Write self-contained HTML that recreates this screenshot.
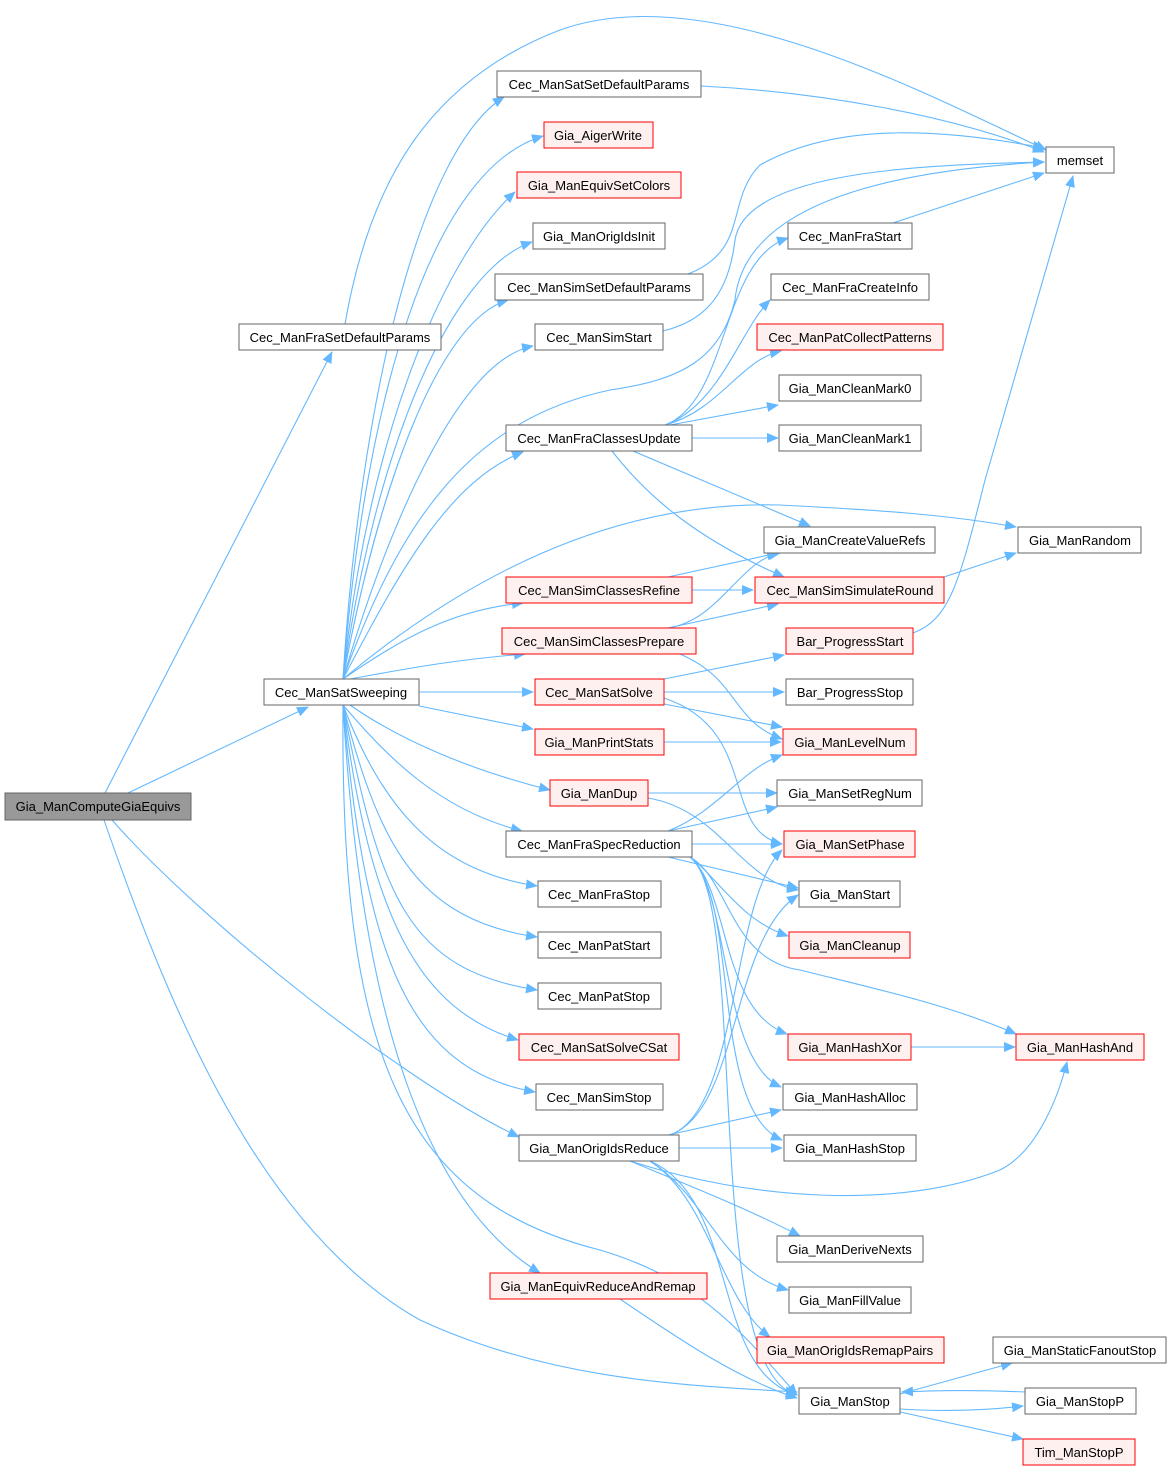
<!DOCTYPE html>
<html><head><meta charset="utf-8"><style>
html,body{margin:0;padding:0;background:#fff;}
svg{display:block;font-family:"Liberation Sans",Arial,sans-serif;}
.n rect{fill:#fff;stroke:#666;stroke-width:1}
.r rect{fill:#fff0f0;stroke:#ff0000;stroke-width:1}
.g rect{fill:#999;stroke:#666;stroke-width:1}
text{font-size:13px;fill:#000;text-anchor:middle;}
path{fill:none;stroke:#63b8ff;stroke-width:1.1;marker-end:url(#a)}
</style></head><body>
<svg width="1172" height="1471" viewBox="0 0 1172 1471" xmlns="http://www.w3.org/2000/svg">
<defs><marker id="a" markerWidth="12" markerHeight="10" refX="11" refY="5" orient="auto" markerUnits="userSpaceOnUse"><polygon points="0,0 12,5 0,10" fill="#63b8ff"/></marker></defs>
<g>
<path d="M105,793 L332,352"/>
<path d="M128,793 L308,707"/>
<path d="M112,820 C200,920 400,1080 519,1137"/>
<path d="M104,820 C170,1010 260,1230 420,1320 C550,1380 680,1385 797,1392"/>
<path d="M345,324 C370,180 430,80 560,30 C700,-20 900,80 1046,150"/>
<path d="M701,86 C820,92 950,115 1044,152"/>
<path d="M688,274 C750,250 725,200 760,165 C840,120 950,130 1044,148"/>
<path d="M663,331 C700,322 728,300 735,240 C745,175 900,165 1044,162"/>
<path d="M893,223 L1044,173"/>
<path d="M913,633 C950,620 960,580 985,480 L1073,176"/>
<path d="M343,679 C360,400 420,150 504,97"/>
<path d="M343,679 C365,400 430,170 543,136"/>
<path d="M343,679 C370,420 450,250 515,192"/>
<path d="M343,679 C375,450 450,270 532,242"/>
<path d="M343,679 C380,480 440,320 508,300"/>
<path d="M343,679 C390,520 460,360 533,346"/>
<path d="M343,679 C400,520 470,420 610,390 C680,380 720,360 735,300 C745,200 900,170 1044,162"/>
<path d="M343,679 C400,570 450,480 523,452"/>
<path d="M343,679 C450,590 600,500 780,505 C880,510 950,515 1016,527"/>
<path d="M343,679 C400,640 450,610 523,603"/>
<path d="M350,679 C400,670 450,660 525,654"/>
<path d="M419,692 L533,692"/>
<path d="M419,706 L533,729"/>
<path d="M350,705 C400,740 470,770 550,790"/>
<path d="M343,705 C390,760 440,810 522,831"/>
<path d="M343,705 C380,800 430,870 537,886"/>
<path d="M343,705 C380,850 420,920 537,937"/>
<path d="M343,705 C380,900 410,970 537,990"/>
<path d="M343,705 C370,920 420,1010 518,1040"/>
<path d="M343,705 C365,960 410,1070 535,1092"/>
<path d="M343,705 C360,1000 420,1200 540,1273"/>
<path d="M343,705 C340,1050 400,1200 600,1250 C700,1280 740,1330 797,1395"/>
<path d="M665,425 C730,400 720,260 788,238"/>
<path d="M665,425 C720,405 740,330 770,300"/>
<path d="M665,425 C720,410 740,360 781,351"/>
<path d="M670,425 L778,405"/>
<path d="M692,438 L778,438"/>
<path d="M633,451 L810,526"/>
<path d="M612,451 C650,500 700,540 784,577"/>
<path d="M668,577 L778,553"/>
<path d="M692,590 L753,590"/>
<path d="M668,628 C720,620 740,560 780,553"/>
<path d="M668,628 L778,604"/>
<path d="M680,654 C740,680 730,720 782,739"/>
<path d="M944,577 L1016,553"/>
<path d="M664,679 L784,655"/>
<path d="M664,692 L784,692"/>
<path d="M664,704 L782,727"/>
<path d="M664,698 C760,730 720,830 782,844"/>
<path d="M664,742 L781,742"/>
<path d="M648,793 L777,793"/>
<path d="M648,798 C720,810 740,880 798,890"/>
<path d="M668,831 C720,810 740,770 782,755"/>
<path d="M668,831 L777,807"/>
<path d="M692,844 L782,844"/>
<path d="M668,857 L798,888"/>
<path d="M690,857 C720,880 740,920 788,936"/>
<path d="M690,857 C730,880 730,960 800,970 C880,990 950,1005 1016,1034"/>
<path d="M690,857 C730,890 720,1010 787,1034"/>
<path d="M690,857 C730,890 720,1060 781,1087"/>
<path d="M690,857 C740,900 710,1110 782,1140"/>
<path d="M690,857 C750,900 700,1370 797,1395"/>
<path d="M911,1047 L1015,1047"/>
<path d="M668,1135 L781,1110"/>
<path d="M679,1148 L782,1148"/>
<path d="M670,1135 C740,1110 730,900 782,850"/>
<path d="M670,1135 C740,1110 730,940 798,895"/>
<path d="M630,1161 C750,1200 900,1210 1000,1170 C1040,1150 1060,1090 1067,1062"/>
<path d="M630,1161 C700,1190 750,1210 800,1236"/>
<path d="M650,1161 C710,1200 720,1270 788,1290"/>
<path d="M650,1161 C710,1200 720,1300 770,1337"/>
<path d="M650,1161 C740,1200 710,1370 797,1395"/>
<path d="M620,1299 C680,1340 740,1380 797,1398"/>
<path d="M900,1394 L1012,1363"/>
<path d="M1025,1392 C980,1390 940,1390 902,1392"/>
<path d="M900,1409 C950,1412 990,1410 1023,1406"/>
<path d="M900,1412 L1023,1439"/>
</g>
<g class="g"><rect x="5" y="793" width="186" height="27"/><text x="98" y="811">Gia_ManComputeGiaEquivs</text></g>
<g class="n"><rect x="239" y="324" width="202" height="26"/><text x="340" y="342">Cec_ManFraSetDefaultParams</text></g>
<g class="n"><rect x="264" y="679" width="155" height="26"/><text x="341" y="697">Cec_ManSatSweeping</text></g>
<g class="n"><rect x="497" y="71" width="204" height="26"/><text x="599" y="89">Cec_ManSatSetDefaultParams</text></g>
<g class="r"><rect x="544" y="122" width="109" height="26"/><text x="598" y="140">Gia_AigerWrite</text></g>
<g class="r"><rect x="517" y="172" width="164" height="26"/><text x="599" y="190">Gia_ManEquivSetColors</text></g>
<g class="n"><rect x="533" y="223" width="132" height="26"/><text x="599" y="241">Gia_ManOrigIdsInit</text></g>
<g class="n"><rect x="495" y="274" width="208" height="26"/><text x="599" y="292">Cec_ManSimSetDefaultParams</text></g>
<g class="n"><rect x="535" y="324" width="128" height="26"/><text x="599" y="342">Cec_ManSimStart</text></g>
<g class="n"><rect x="506" y="425" width="186" height="26"/><text x="599" y="443">Cec_ManFraClassesUpdate</text></g>
<g class="r"><rect x="506" y="577" width="186" height="26"/><text x="599" y="595">Cec_ManSimClassesRefine</text></g>
<g class="r"><rect x="502" y="628" width="194" height="26"/><text x="599" y="646">Cec_ManSimClassesPrepare</text></g>
<g class="r"><rect x="535" y="679" width="129" height="26"/><text x="599" y="697">Cec_ManSatSolve</text></g>
<g class="r"><rect x="535" y="729" width="129" height="26"/><text x="599" y="747">Gia_ManPrintStats</text></g>
<g class="r"><rect x="550" y="780" width="98" height="26"/><text x="599" y="798">Gia_ManDup</text></g>
<g class="n"><rect x="506" y="831" width="186" height="26"/><text x="599" y="849">Cec_ManFraSpecReduction</text></g>
<g class="n"><rect x="538" y="881" width="123" height="26"/><text x="599" y="899">Cec_ManFraStop</text></g>
<g class="n"><rect x="538" y="932" width="123" height="26"/><text x="599" y="950">Cec_ManPatStart</text></g>
<g class="n"><rect x="538" y="983" width="123" height="26"/><text x="599" y="1001">Cec_ManPatStop</text></g>
<g class="r"><rect x="519" y="1034" width="160" height="26"/><text x="599" y="1052">Cec_ManSatSolveCSat</text></g>
<g class="n"><rect x="536" y="1084" width="127" height="26"/><text x="599" y="1102">Cec_ManSimStop</text></g>
<g class="n"><rect x="519" y="1135" width="160" height="26"/><text x="599" y="1153">Gia_ManOrigIdsReduce</text></g>
<g class="r"><rect x="490" y="1273" width="217" height="26"/><text x="598" y="1291">Gia_ManEquivReduceAndRemap</text></g>
<g class="n"><rect x="788" y="223" width="124" height="26"/><text x="850" y="241">Cec_ManFraStart</text></g>
<g class="n"><rect x="771" y="274" width="158" height="26"/><text x="850" y="292">Cec_ManFraCreateInfo</text></g>
<g class="r"><rect x="757" y="324" width="186" height="26"/><text x="850" y="342">Cec_ManPatCollectPatterns</text></g>
<g class="n"><rect x="779" y="375" width="142" height="26"/><text x="850" y="393">Gia_ManCleanMark0</text></g>
<g class="n"><rect x="779" y="425" width="142" height="26"/><text x="850" y="443">Gia_ManCleanMark1</text></g>
<g class="n"><rect x="764" y="527" width="171" height="26"/><text x="850" y="545">Gia_ManCreateValueRefs</text></g>
<g class="r"><rect x="755" y="577" width="189" height="26"/><text x="850" y="595">Cec_ManSimSimulateRound</text></g>
<g class="r"><rect x="786" y="628" width="127" height="26"/><text x="850" y="646">Bar_ProgressStart</text></g>
<g class="n"><rect x="786" y="679" width="127" height="26"/><text x="850" y="697">Bar_ProgressStop</text></g>
<g class="r"><rect x="783" y="729" width="133" height="26"/><text x="850" y="747">Gia_ManLevelNum</text></g>
<g class="n"><rect x="777" y="780" width="145" height="26"/><text x="850" y="798">Gia_ManSetRegNum</text></g>
<g class="r"><rect x="784" y="831" width="131" height="26"/><text x="850" y="849">Gia_ManSetPhase</text></g>
<g class="n"><rect x="799" y="881" width="101" height="26"/><text x="850" y="899">Gia_ManStart</text></g>
<g class="r"><rect x="789" y="932" width="121" height="26"/><text x="850" y="950">Gia_ManCleanup</text></g>
<g class="r"><rect x="788" y="1034" width="123" height="26"/><text x="850" y="1052">Gia_ManHashXor</text></g>
<g class="n"><rect x="783" y="1084" width="134" height="26"/><text x="850" y="1102">Gia_ManHashAlloc</text></g>
<g class="n"><rect x="784" y="1135" width="132" height="26"/><text x="850" y="1153">Gia_ManHashStop</text></g>
<g class="n"><rect x="777" y="1236" width="146" height="26"/><text x="850" y="1254">Gia_ManDeriveNexts</text></g>
<g class="n"><rect x="789" y="1287" width="122" height="26"/><text x="850" y="1305">Gia_ManFillValue</text></g>
<g class="r"><rect x="757" y="1337" width="187" height="26"/><text x="850" y="1355">Gia_ManOrigIdsRemapPairs</text></g>
<g class="n"><rect x="799" y="1388" width="101" height="26"/><text x="850" y="1406">Gia_ManStop</text></g>
<g class="n"><rect x="1046" y="147" width="68" height="26"/><text x="1080" y="165">memset</text></g>
<g class="n"><rect x="1018" y="527" width="123" height="26"/><text x="1080" y="545">Gia_ManRandom</text></g>
<g class="r"><rect x="1016" y="1034" width="128" height="26"/><text x="1080" y="1052">Gia_ManHashAnd</text></g>
<g class="n"><rect x="993" y="1337" width="173" height="26"/><text x="1080" y="1355">Gia_ManStaticFanoutStop</text></g>
<g class="n"><rect x="1025" y="1388" width="111" height="26"/><text x="1080" y="1406">Gia_ManStopP</text></g>
<g class="r"><rect x="1023" y="1439" width="112" height="26"/><text x="1079" y="1457">Tim_ManStopP</text></g>
</svg>
</body></html>
